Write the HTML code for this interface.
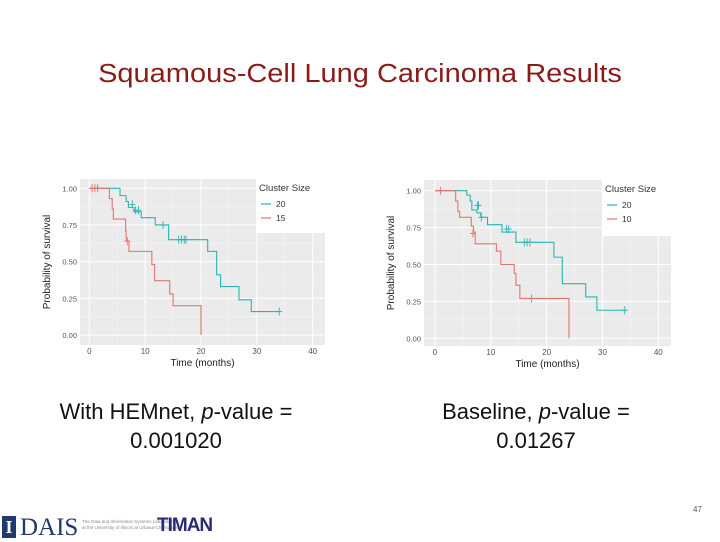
<!DOCTYPE html>
<html><head><meta charset="utf-8"><style>
body{margin:0;width:720px;height:540px;background:#fff;overflow:hidden;font-family:"Liberation Sans",sans-serif;position:relative}
.t{position:absolute;white-space:nowrap}
</style></head><body>
<div class="t" style="left:0;width:720px;top:58px;text-align:center;font-size:29px;color:#8b1a1a;transform:scaleY(0.9)">Squamous-Cell Lung Carcinoma Results</div>
<svg id="chart" width="720" height="400" style="position:absolute;left:0;top:0"></svg>
<div class="t" style="left:0;width:352px;top:397px;text-align:center;font-size:22px;line-height:29px;color:#111">With HEMnet, <i>p</i>-value =<br>0.001020</div>
<div class="t" style="left:360px;width:352px;top:397px;text-align:center;font-size:22px;line-height:29px;color:#111">Baseline, <i>p</i>-value =<br>0.01267</div>
<div class="t" style="left:693px;top:505px;font-size:8px;color:#555">47</div>
<div style="position:absolute;left:2px;top:516px;width:14px;height:22px;background:#1f3a6e;color:#fff;font:bold 18px 'Liberation Serif',serif;text-align:center;line-height:22px">I</div>
<div class="t" style="left:20px;top:514px;font:25px 'Liberation Serif',serif;color:#1f3a6e;letter-spacing:0px">DAIS</div>
<div class="t" style="left:82px;top:519px;font-size:4.5px;color:#888;line-height:5.5px">The Data and Information Systems Laboratories<br>at the University of Illinois at Urbana-Champaign</div>
<div class="t" style="left:157px;top:515px;font:bold 19px 'Liberation Sans',sans-serif;color:#2a2a7a;letter-spacing:-1px">TIMAN</div>
<script>
const xTicks=[0,10,20,30,40];
const yTicks=[0,0.25,0.5,0.75,1];
const yTickLabels=["0.00","0.25","0.50","0.75","1.00"];
// Left plot (HEMnet)
const leftTealTimes=[0,5.5,6.6,7.0,8.0,9.3,11.8,14.2,21.2,22.8,23.5,26.8,29.0];
const leftTealSurv=[1,0.95,0.91,0.87,0.84,0.80,0.75,0.65,0.57,0.41,0.33,0.24,0.16];
const leftTealEnd=34;
const leftTealCensT=[1.5,7.7,8.3,8.8,13.2,16.0,16.5,17.0,17.3,34];
const leftTealCensS=[1,0.89,0.85,0.85,0.75,0.65,0.65,0.65,0.65,0.16];
const leftRedTimes=[0,3.6,4.1,4.3,6.5,6.6,7.1,11.2,11.7,14.4,15.0,20.0];
const leftRedSurv=[1,0.93,0.86,0.79,0.71,0.64,0.57,0.48,0.37,0.28,0.20,0.0];
const leftRedEnd=20;
const leftRedCensT=[0.5,1.0,6.8];
const leftRedCensS=[1,1,0.64];
const leftLegend=["20","15"];
// Right plot (baseline)
const rightTealTimes=[0,5.7,6.3,6.6,7.5,8.2,9.4,12.0,14.5,21.3,22.8,27.0,29.0];
const rightTealSurv=[1,0.97,0.93,0.87,0.85,0.82,0.77,0.72,0.65,0.55,0.37,0.28,0.19];
const rightTealEnd=34;
const rightTealCensT=[7.6,7.8,8.3,12.8,13.2,16.0,16.5,17.0,34];
const rightTealCensS=[0.9,0.9,0.82,0.74,0.74,0.65,0.65,0.65,0.19];
const rightRedTimes=[0,3.7,4.1,4.4,6.5,6.9,7.2,11.0,11.8,14.2,14.5,15.2,24.0];
const rightRedSurv=[1,0.93,0.86,0.82,0.76,0.72,0.64,0.59,0.50,0.44,0.36,0.27,0.0];
const rightRedEnd=24;
const rightRedCensT=[1.0,6.8,17.3];
const rightRedCensS=[1,0.71,0.27];
const rightLegend=["20","10"];

const svg=document.getElementById('chart');
const NS='http://www.w3.org/2000/svg';
function mk(tag,attrs,parent){const e=document.createElementNS(NS,tag);for(const k in attrs)e.setAttribute(k,attrs[k]);(parent||svg).appendChild(e);return e;}
const TEAL='#2bb3b3',RED='#e0776e';
function plot(g,tT,tS,tEnd,tcT,tcS,rT,rS,rEnd,rcT,rcS,leg,name){
  const xs=v=>g.x0+(g.x40-g.x0)*v/40, ys=v=>g.y0+(g.y1-g.y0)*v;
  const grp=mk('g',{});
  
  
  const bg=mk('rect',{x:g.L,y:g.T,width:g.R-g.L,height:g.B-g.T,fill:'#ebebeb'},grp);
  
  
  for(let i=0;i<xTicks.length;i++){
    mk('line',{x1:xs(xTicks[i]),x2:xs(xTicks[i]),y1:g.T,y2:g.B,stroke:'#fff','stroke-width':1},grp);
    if(i<xTicks.length-1){const m=xs((xTicks[i]+xTicks[i+1])/2);mk('line',{x1:m,x2:m,y1:g.T,y2:g.B,stroke:'#f7f7f7','stroke-width':0.5},grp);}
    const t=mk('text',{x:xs(xTicks[i]),y:g.B+9,'font-size':8,fill:'#555','text-anchor':'middle'},grp);t.textContent=xTicks[i];
    
    
  }
  for(let i=0;i<yTicks.length;i++){
    mk('line',{x1:g.L,x2:g.R,y1:ys(yTicks[i]),y2:ys(yTicks[i]),stroke:'#fff','stroke-width':1},grp);
    if(i<yTicks.length-1){const m=ys((yTicks[i]+yTicks[i+1])/2);mk('line',{x1:g.L,x2:g.R,y1:m,y2:m,stroke:'#f7f7f7','stroke-width':0.5},grp);}
    const t=mk('text',{x:g.L-3,y:ys(yTicks[i])+3,'font-size':7.5,fill:'#555','text-anchor':'end'},grp);t.textContent=yTickLabels[i];
    
    
  }
  const xt=mk('text',{x:(g.L+g.R)/2,y:g.B+21,'font-size':10,fill:'#222','text-anchor':'middle'},grp);xt.textContent='Time (months)';
  
  
  const yt=mk('text',{x:0,y:0,'font-size':10,fill:'#222','text-anchor':'middle',transform:`translate(${g.L-30},${(g.T+g.B)/2}) rotate(-90)`},grp);yt.textContent='Probability of survival';
  
  
  function curve(T,S,end,cT,cS,col,nm){
    let d=`M${xs(T[0])},${ys(S[0])}`;
    for(let i=1;i<T.length;i++){d+=` H${xs(T[i])} V${ys(S[i])}`;}
    d+=` H${xs(end)}`;
    const p=mk('path',{d:d,fill:'none',stroke:col,'stroke-width':1.1},grp);
    
    
    for(let i=0;i<cT.length;i++){
      const x=xs(cT[i]),y=ys(cS[i]);
      const c=mk('path',{d:`M${x},${y-4}V${y+4}M${x-3},${y}H${x+3}`,stroke:col,'stroke-width':0.9},grp);
      
      
    }
  }
  curve(tT,tS,tEnd,tcT,tcS,TEAL,'cluster-'+leg[0]);
  curve(rT,rS,rEnd,rcT,rcS,RED,'cluster-'+leg[1]);
  const lg=mk('g',{},grp);
  
  
  mk('rect',{x:g.lx,y:g.T,width:g.R-g.lx,height:g.lh,fill:'#fff'},lg);
  const lt=mk('text',{x:g.lx+3,y:g.T+12,'font-size':9.5,fill:'#333'},lg);lt.textContent='Cluster Size';
  [[TEAL,leg[0]],[RED,leg[1]]].forEach((e,i)=>{
    const y=g.T+25+i*14;
    mk('line',{x1:g.lx+5,x2:g.lx+15,y1:y,y2:y,stroke:e[0],'stroke-width':1.2},lg);
    const tx=mk('text',{x:g.lx+20,y:y+3,'font-size':8.5,fill:'#333'},lg);tx.textContent=e[1];
    
    
  });
}
plot({L:80,R:325,T:179,B:345,x0:89.3,x40:312.7,y0:335,y1:188.3,lx:256,lh:54},
  leftTealTimes,leftTealSurv,leftTealEnd,leftTealCensT,leftTealCensS,
  leftRedTimes,leftRedSurv,leftRedEnd,leftRedCensT,leftRedCensS,leftLegend,'hemnet-km-plot');
plot({L:424,R:671,T:180,B:346,x0:435,x40:658.3,y0:338.3,y1:190.7,lx:602,lh:56},
  rightTealTimes,rightTealSurv,rightTealEnd,rightTealCensT,rightTealCensS,
  rightRedTimes,rightRedSurv,rightRedEnd,rightRedCensT,rightRedCensS,rightLegend,'baseline-km-plot');
</script>
</body></html>
